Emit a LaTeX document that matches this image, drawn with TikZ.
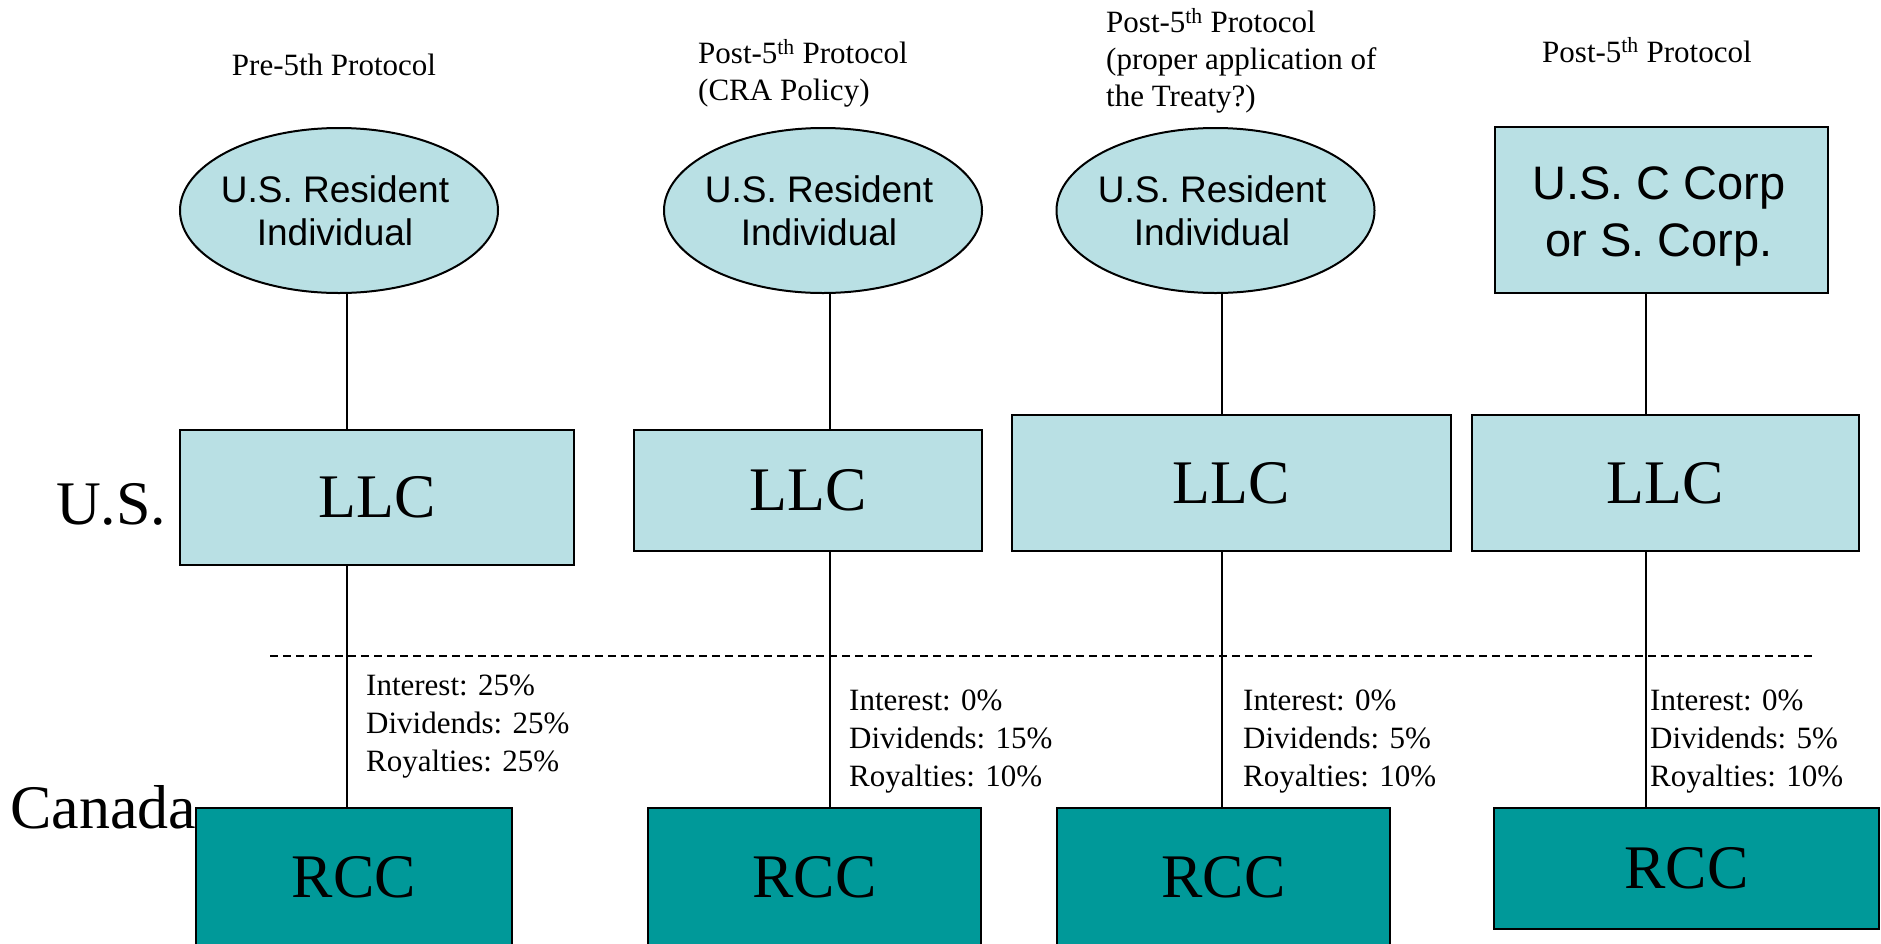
\documentclass[tikz,border=0pt]{standalone}
\usepackage{fontspec}
\setmainfont{Liberation Serif}
\setsansfont{Liberation Sans}
\usetikzlibrary{shapes.geometric}
\definecolor{paleblue}{RGB}{185,224,228}
\definecolor{rccteal}{RGB}{0,153,153}
\begin{document}
\begin{tikzpicture}[x=1pt,y=-1pt,
  owner/.style={ellipse,draw,line width=2pt,fill=paleblue,minimum width=318pt,minimum height=165pt,inner sep=0pt},
  ownertext/.style={font=\sffamily\fontsize{37}{43}\selectfont,align=center,inner sep=0pt},
  corpbox/.style={rectangle,draw,line width=2pt,fill=paleblue,inner sep=0pt},
  corptext/.style={font=\sffamily\fontsize{47}{57}\selectfont,align=center,inner sep=0pt},
  usbox/.style={rectangle,draw,line width=2pt,fill=paleblue,inner sep=0pt,font=\fontsize{62}{70}\selectfont},
  cabox/.style={rectangle,draw,line width=2pt,fill=rccteal,inner sep=0pt,font=\fontsize{62}{70}\selectfont},
  heading/.style={font=\fontsize{31}{37}\selectfont,align=left,inner sep=0pt},
  rates/.style={font=\fontsize{31}{38}\selectfont,align=left,inner sep=0pt,anchor=north west},
  country/.style={font=\fontsize{62}{70}\selectfont,inner sep=0pt,anchor=base west},
  link/.style={line width=1.5pt},
  border line/.style={line width=2pt,dash pattern=on 8pt off 5pt}]
\useasboundingbox (0,0) rectangle (1881,943);
\clip (0,0) rectangle (1881,943);

% column headings
\node[heading,anchor=base] (h1) at (334,75) {Pre-5th Protocol};
\node[heading,anchor=north west] (h2) at (698,39) {Post-5\textsuperscript{th} Protocol\\(CRA Policy)};
\node[heading,anchor=north west] (h3) at (1106,8) {Post-5\textsuperscript{th} Protocol\\(proper application of\\the Treaty?)};
\node[heading,anchor=base west] (h4) at (1542,62) {Post-5\textsuperscript{th} Protocol};

% country labels
\node[country] (us) at (56,524) {U.S.};
\node[country] (ca) at (10,828) {Canada};

% owners
\node[owner] (e1) at (339,210.5) {};
\node[ownertext] (e1t) at (335,211) {U.S. Resident\\Individual};
\node[owner] (e2) at (823,210.5) {};
\node[ownertext] (e2t) at (819,211) {U.S. Resident\\Individual};
\node[owner] (e3) at (1215.5,210.5) {};
\node[ownertext] (e3t) at (1212,211) {U.S. Resident\\Individual};
\node[corpbox,minimum width=333pt,minimum height=166pt] (corp) at (1661.5,210) {};
\node[corptext] (corpt) at (1659,216) {U.S. C Corp\\or S. Corp.};

% U.S. LLCs
\node[usbox,minimum width=394pt,minimum height=135pt] (llc1) at (377,497.5) {LLC};
\node[usbox,minimum width=348pt,minimum height=121pt] (llc2) at (808,490.5) {LLC};
\node[usbox,minimum width=439pt,minimum height=136pt] (llc3) at (1231.5,483) {LLC};
\node[usbox,minimum width=387pt,minimum height=136pt] (llc4) at (1665.5,483) {LLC};

% Canadian corporations
\node[cabox,minimum width=316pt,minimum height=138pt] (rcc1) at (354,877) {RCC};
\node[cabox,minimum width=333pt,minimum height=138pt] (rcc2) at (814.5,877) {RCC};
\node[cabox,minimum width=333pt,minimum height=138pt] (rcc3) at (1223.5,877) {RCC};
\node[cabox,minimum width=385pt,minimum height=121pt] (rcc4) at (1686.5,868.5) {RCC};

% vertical ownership lines
\coordinate (v1) at (347,0);
\coordinate (v2) at (830,0);
\coordinate (v3) at (1222,0);
\coordinate (v4) at (1646,0);
\draw[link] (e1.south -| v1) -- (llc1.north -| v1);
\draw[link] (llc1.south -| v1) -- (rcc1.north -| v1);
\draw[link] (e2.south -| v2) -- (llc2.north -| v2);
\draw[link] (llc2.south -| v2) -- (rcc2.north -| v2);
\draw[link] (e3.south -| v3) -- (llc3.north -| v3);
\draw[link] (llc3.south -| v3) -- (rcc3.north -| v3);
\draw[link] (corp.south -| v4) -- (llc4.north -| v4);
\draw[link] (llc4.south -| v4) -- (rcc4.north -| v4);

% border
\coordinate (bl) at (270,656);
\coordinate (br) at (1812,656);
\draw[border line] (bl) -- (br);

% withholding rates
\node[rates] (r1) at (366,675) {Interest: 25\%\\Dividends: 25\%\\Royalties: 25\%};
\node[rates] (r2) at (849,690) {Interest: 0\%\\Dividends: 15\%\\Royalties: 10\%};
\node[rates] (r3) at (1243,690) {Interest: 0\%\\Dividends: 5\%\\Royalties: 10\%};
\node[rates] (r4) at (1650,690) {Interest: 0\%\\Dividends: 5\%\\Royalties: 10\%};
\end{tikzpicture}
\end{document}
